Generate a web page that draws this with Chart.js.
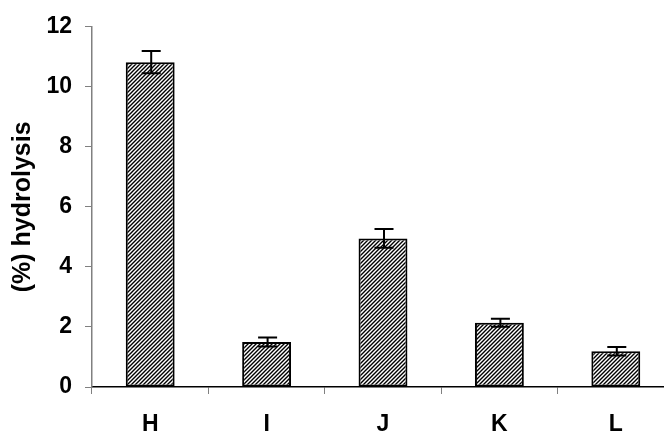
<!DOCTYPE html>
<html>
<head>
<meta charset="utf-8">
<script src="https://cdn.jsdelivr.net/npm/chart.js@4"></script>
<style>
html,body{margin:0;padding:0;background:#fff;overflow:hidden;}
#wrap{width:674px;height:433px;}
</style>
</head>
<body>
<div id="wrap"><canvas id="c" width="674" height="433"></canvas></div>
<script>
const categories = ['H', 'I', 'J', 'K', 'L'];
const hydrolysis = [10.82, 1.50, 4.95, 2.14, 1.19];
const errors = [0.37, 0.15, 0.31, 0.13, 0.14];
const yTicks = [0, 2, 4, 6, 8, 10, 12];

function hatch() {
  const s = 4;
  const cv = document.createElement('canvas');
  cv.width = s; cv.height = s;
  const g = cv.getContext('2d');
  g.fillStyle = '#fff';
  g.fillRect(0, 0, s, s);
  g.strokeStyle = '#000';
  g.lineWidth = 1.4;
  g.beginPath();
  g.moveTo(-1, s + 1); g.lineTo(s + 1, -1);
  g.moveTo(-1, 1); g.lineTo(1, -1);
  g.moveTo(s - 1, s + 1); g.lineTo(s + 1, s - 1);
  g.stroke();
  return g.createPattern(cv, 'repeat');
}
const ctx = document.getElementById('c').getContext('2d');

const errorBars = {
  id: 'errorBars',
  afterDatasetsDraw(chart) {
    const meta = chart.getDatasetMeta(0);
    const y = chart.scales.y;
    const c = chart.ctx;
    c.save();
    c.strokeStyle = '#000';
    c.lineWidth = 2;
    meta.data.forEach((bar, i) => {
      const v = hydrolysis[i], e = errors[i];
      const yt = y.getPixelForValue(v + e);
      const yb = y.getPixelForValue(v - e);
      const x = bar.x + 1;
      const hw = 9.5;
      c.beginPath();
      c.moveTo(x, yt); c.lineTo(x, yb);
      c.moveTo(x - hw, yt); c.lineTo(x + hw, yt);
      c.moveTo(x - hw, yb); c.lineTo(x + hw, yb);
      c.stroke();
    });
    c.restore();
  }
};

const tickFont = { family: "'Liberation Sans', Arial, sans-serif", size: 23, weight: 'bold' };
const titleFont = { family: "'Liberation Sans', Arial, sans-serif", size: 25, weight: 'bold' };

new Chart(ctx, {
  type: 'bar',
  data: {
    labels: categories,
    datasets: [{
      data: hydrolysis,
      backgroundColor: hatch(),
      borderColor: '#000',
      borderWidth: 2,
      borderSkipped: false,
      categoryPercentage: 1,
      barPercentage: 0.42
    }]
  },
  options: {
    responsive: false,
    animation: false,
    devicePixelRatio: 1,
    layout: { padding: { top: 26, right: 0, left: 0, bottom: 0 } },
    plugins: { legend: { display: false }, tooltip: { enabled: false } },
    scales: {
      x: {
        grid: { offset: true, drawOnChartArea: false, drawTicks: true, tickLength: 7, color: '#808080' },
        border: { display: true, color: '#000', width: 1.5 },
        ticks: { color: '#000', font: tickFont, padding: 17 },
        afterFit(s) { s.height = 46; }
      },
      y: {
        min: 0, max: 12,
        afterBuildTicks(s) { s.ticks = yTicks.map(v => ({ value: v })); },
        grid: { drawOnChartArea: false, drawTicks: true, tickLength: 7, color: '#808080' },
        border: { display: true, color: '#808080', width: 1.5 },
        ticks: { color: '#000', font: tickFont, padding: 13 },
        title: { display: true, text: '(%) hydrolysis', color: '#000', font: titleFont, padding: { top: 8, bottom: 0 } },
        afterFit(s) { s.width = 92; }
      }
    }
  },
  plugins: [errorBars]
});
</script>
</body>
</html>
